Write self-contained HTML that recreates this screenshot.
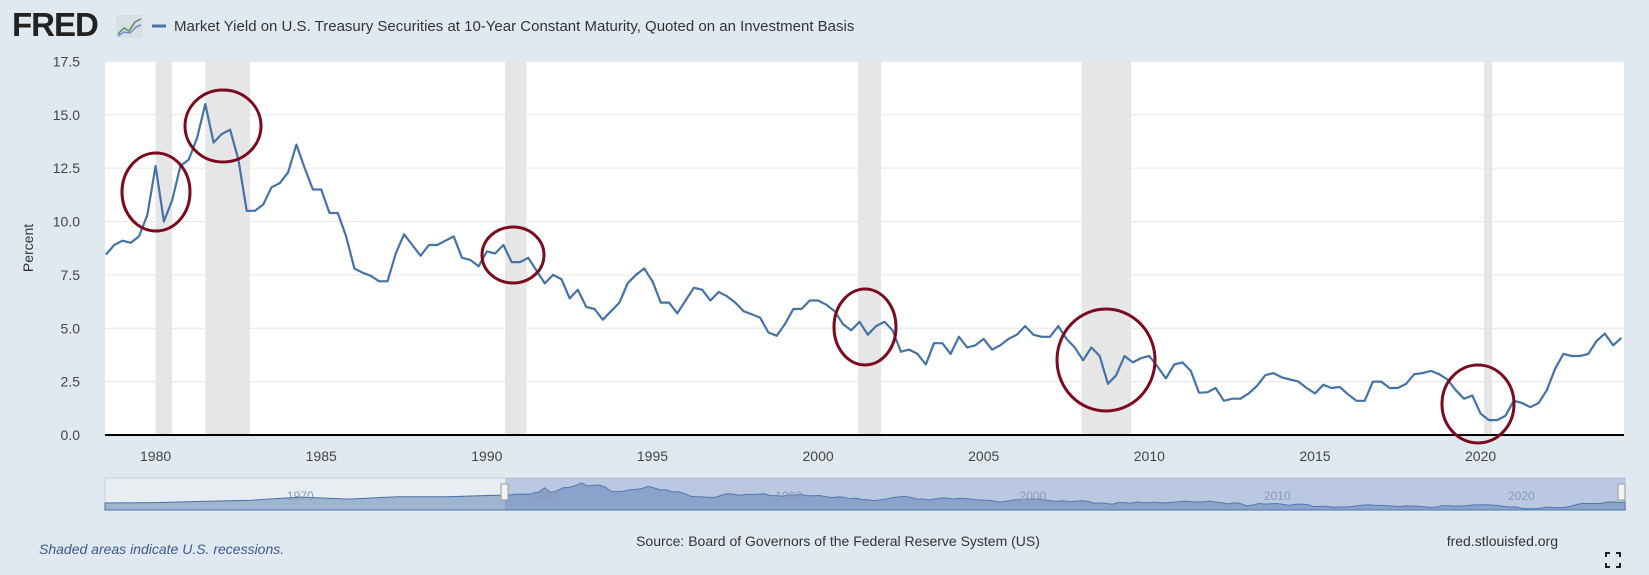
<!DOCTYPE html>
<html><head><meta charset="utf-8"><style>
html,body{margin:0;padding:0;background:#e1e9f0;width:1649px;height:575px;overflow:hidden;font-family:"Liberation Sans",sans-serif}
</style></head><body>
<svg id="c" width="1649" height="575" xmlns="http://www.w3.org/2000/svg">
<rect width="1649" height="575" fill="#e1e9f0"/>
<text x="12" y="36" font-size="33" font-weight="bold" fill="#222" font-family="Liberation Sans, sans-serif" letter-spacing="-1">FRED</text>
<g><rect x="116" y="15" width="27" height="23" fill="#d8e0e6"/><polyline points="118,34 124,28 129,31 135,22 141,19" fill="none" stroke="#5a8a5a" stroke-width="1.5"/><polyline points="118,36 124,32 130,33 136,27 141,25" fill="none" stroke="#6b8fc1" stroke-width="1.5"/></g>
<line x1="152" y1="26" x2="166" y2="26" stroke="#4572a7" stroke-width="3"/>
<text x="174" y="31" font-size="15" fill="#333">Market Yield on U.S. Treasury Securities at 10-Year Constant Maturity, Quoted on an Investment Basis</text>
<rect x="105" y="61" width="1519" height="374" fill="#fff"/>
<g id="rec"></g><g id="grid"></g><g id="yl"></g><g id="xl"></g>
<path id="line" fill="none" stroke="#4572a7" stroke-width="2.2" stroke-linejoin="round"/>
<line x1="105" y1="435" x2="1624" y2="435" stroke="#000" stroke-width="2"/>
<text transform="translate(33,248) rotate(-90)" text-anchor="middle" font-size="14" fill="#333">Percent</text>
<g fill="none" stroke="#7a0a1e" stroke-width="3">
<ellipse cx="156" cy="192" rx="34" ry="39"/>
<ellipse cx="223" cy="126" rx="38" ry="36"/>
<ellipse cx="513" cy="255" rx="31" ry="28"/>
<ellipse cx="865" cy="327" rx="31" ry="38"/>
<ellipse cx="1106" cy="360" rx="49" ry="51"/>
<ellipse cx="1478" cy="404" rx="36" ry="39"/>
</g>
<g>
<rect x="105" y="478" width="1520" height="32" fill="#e8edf2" stroke="#ccd"/>
<path id="nav" fill="#9fb4d0" stroke="#4572a7" stroke-width="1"/>
<rect id="navsel" y="478" height="32" fill="rgba(102,133,194,0.35)"/>
<g id="navl"></g>
<rect id="h1" y="484" width="7" height="16" fill="#f2f2f2" stroke="#999"/>
<rect id="h2" y="484" width="7" height="16" fill="#f2f2f2" stroke="#999"/>
</g>
<text x="39" y="554" font-size="14" font-style="italic" fill="#3c5a8a">Shaded areas indicate U.S. recessions.</text>
<text x="838" y="546" text-anchor="middle" font-size="14" fill="#333">Source: Board of Governors of the Federal Reserve System (US)</text>
<text x="1558" y="546" text-anchor="end" font-size="14" fill="#333">fred.stlouisfed.org</text>
<g stroke="#222" stroke-width="2" fill="none"><path d="M1606 557v-4h4M1616 553h4v4M1620 563v4h-4M1610 567h-4v-4"/></g>
</svg>
<script>
const startYear = 1978.5;
const yields = [8.45,8.9,
9.1,9.0,9.3,10.3, 12.6,10.0,11.0,12.6, 12.9,13.9,15.5,13.7, 14.1,14.3,12.9,10.5,
10.5,10.8,11.6,11.8, 12.3,13.6,12.5,11.5, 11.5,10.4,10.4,9.3, 7.8,7.6,7.45,7.2,
7.2,8.5,9.4,8.9, 8.4,8.9,8.9,9.1, 9.3,8.3,8.2,7.9, 8.6,8.5,8.9,8.1,
8.1,8.3,7.7,7.1, 7.5,7.3,6.4,6.8, 6.0,5.9,5.4,5.8, 6.2,7.1,7.5,7.8,
7.2,6.2,6.2,5.7, 6.3,6.9,6.8,6.3, 6.7,6.5,6.2,5.8, 5.65,5.5,4.8,4.65,
5.2,5.9,5.9,6.3, 6.3,6.1,5.8,5.2, 4.9,5.3,4.7,5.1, 5.3,4.9,3.9,4.0,
3.8,3.3,4.3,4.3, 3.8,4.6,4.1,4.2, 4.5,4.0,4.2,4.5, 4.7,5.1,4.7,4.6,
4.6,5.1,4.5,4.1, 3.5,4.1,3.7,2.4, 2.8,3.7,3.4,3.6, 3.7,3.2,2.65,3.3,
3.4,3.0,1.98,2.0, 2.2,1.6,1.7,1.7, 1.95,2.3,2.8,2.9, 2.7,2.6,2.5,2.2,
1.95,2.35,2.2,2.25, 1.9,1.6,1.6,2.5, 2.5,2.2,2.2,2.4, 2.85,2.9,3.0,2.85,
2.6,2.1,1.7,1.85, 1.0,0.7,0.7,0.9, 1.6,1.5,1.3,1.5, 2.1,3.1,3.8,3.7,
3.7,3.8,4.4,4.75, 4.2,4.55];
const earlyYears = [1962,1964,1966,1968,1970,1972,1974,1976,1978];
const earlyYields = [4.0,4.2,4.9,5.6,7.4,6.2,7.6,7.6,8.4];
const recStart = [1980.0,1981.5,1990.55,2001.2,2007.95,2020.1];
const recEnd   = [1980.5,1982.85,1991.2,2001.9,2009.45,2020.35];
const yTicks = [0,2.5,5,7.5,10,12.5,15,17.5];
const xTicks = [1980,1985,1990,1995,2000,2005,2010,2015,2020];
const navTicks = [1970,1980,1990,2000,2010,2020];
const NS='http://www.w3.org/2000/svg';
const X = y => 155.6 + (y-1980)*33.125;
const Y = v => 435 - v*21.35;
const NX = y => 105 + (y-1962)*24.42;
const NY = v => 510 - v*1.75;
function mk(tag, attrs, parent){const e=document.createElementNS(NS,tag);for(const k in attrs)e.setAttribute(k,attrs[k]);document.getElementById(parent).appendChild(e);return e;}
recStart.forEach((s,i)=>{
  const r=mk('rect',{x:X(s),y:61,width:X(recEnd[i])-X(s),height:374,fill:'#e6e6e6'},'rec');
  
  
});
yTicks.forEach(v=>{
  if(v>0){const g=mk('line',{x1:105,x2:1624,y1:Y(v),y2:Y(v),stroke:'#e6e6e6','stroke-width':1},'grid');
  
  }
  const t=mk('text',{x:80,y:Y(v)+5,'text-anchor':'end','font-size':14,fill:'#444'},'yl');t.textContent=v.toFixed(1);
  
  
});
xTicks.forEach(y=>{
  const t=mk('text',{x:X(y),y:461,'text-anchor':'middle','font-size':14,fill:'#444'},'xl');t.textContent=y;
  
  
});
let d='';
yields.forEach((v,i)=>{const yr=startYear+i*0.25;d+=(i?'L':'M')+X(yr).toFixed(1)+' '+Y(v).toFixed(1);});
document.getElementById('line').setAttribute('d',d);
let nd='M'+NX(earlyYears[0])+' 510';
earlyYears.forEach((y,i)=>{nd+='L'+NX(y).toFixed(1)+' '+NY(earlyYields[i]).toFixed(1);});
yields.forEach((v,i)=>{nd+='L'+NX(startYear+i*0.25).toFixed(1)+' '+NY(v).toFixed(1);});
nd+='L'+NX(startYear+(yields.length-1)*0.25).toFixed(1)+' 510Z';
document.getElementById('nav').setAttribute('d',nd);
navTicks.forEach(y=>{
  const t=mk('text',{x:NX(y),y:500,'text-anchor':'middle','font-size':12,fill:'#8a9ab8'},'navl');t.textContent=y;
  
  
});
const s=document.getElementById('navsel');s.setAttribute('x',505);s.setAttribute('width',1120);
document.getElementById('h1').setAttribute('x',501);
document.getElementById('h2').setAttribute('x',1618);
</script>
</body></html>
